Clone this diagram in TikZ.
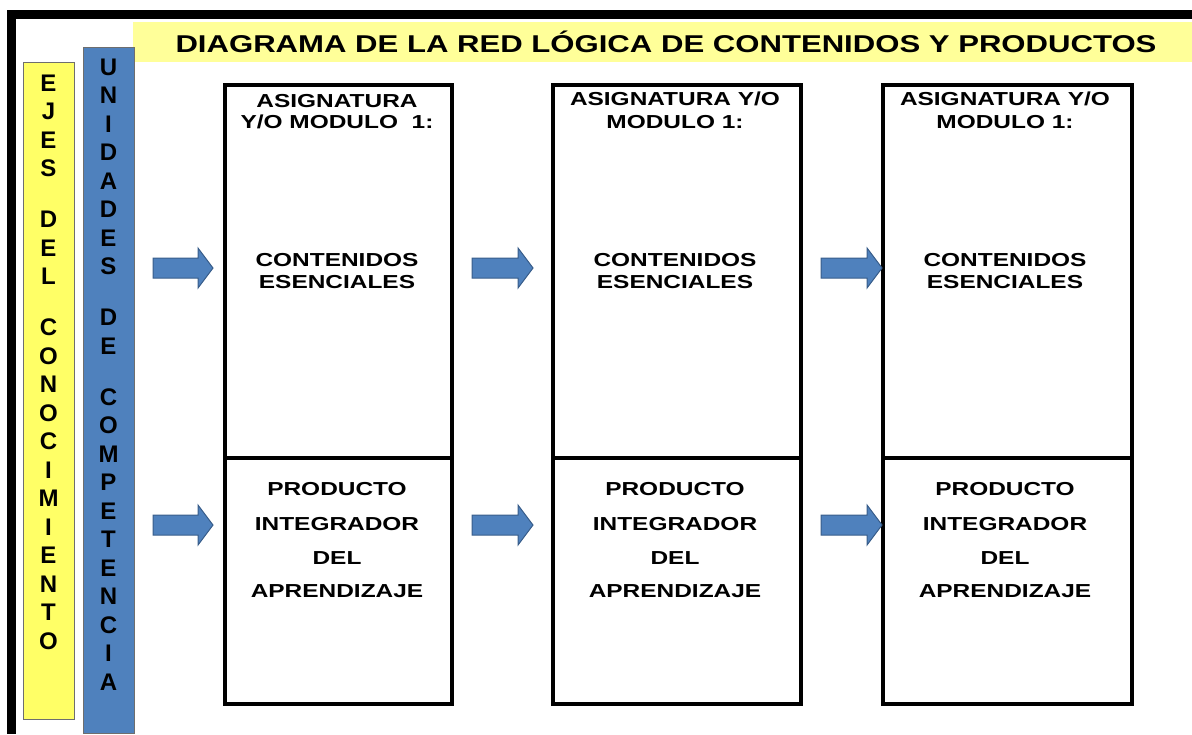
\documentclass[tikz,border=0pt]{standalone}
\usepackage{fontspec}
\setmainfont{Liberation Sans}
\newfontfamily\titlefont{Liberation Sans}[FakeStretch=1.28]
\newfontfamily\boxfont{Liberation Sans}[FakeStretch=1.3]
\definecolor{bandyellow}{RGB}{255,255,153}
\definecolor{baryellow}{RGB}{255,255,102}
\definecolor{barblue}{RGB}{79,129,189}
\definecolor{arrowedge}{RGB}{56,93,138}
\definecolor{bargray}{RGB}{110,110,110}
\tikzset{
  titletxt/.style={font=\titlefont\bfseries\fontsize{24.3}{28}\selectfont, inner sep=0pt, anchor=base},
  boxtxt/.style={font=\boxfont\bfseries\fontsize{18.8}{22}\selectfont, inner sep=0pt, anchor=base},
  lettertxt/.style={font=\bfseries\fontsize{24}{28}\selectfont, inner sep=0pt},
  boxpart/.style={draw=black, line width=3.5pt, rectangle, anchor=north west, inner sep=0pt},
  fatarrow/.style={fill=barblue, draw=arrowedge, line width=1pt, line join=miter},
  vbar/.style={draw=bargray, line width=1.2pt, anchor=north west, inner sep=0pt}
}
\newcommand\fatarr[4]{%
  \draw[fatarrow] ({#1},{#4-10}) -- ({#2},{#4-10}) -- ({#2},{#4-20}) -- ({#3},{#4})
    -- ({#2},{#4+20}) -- ({#2},{#4+10}) -- ({#1},{#4+10}) -- cycle;}
\begin{document}
\begin{tikzpicture}[x=1pt,y=-1pt]
\useasboundingbox (0,0) rectangle (1192,734);
% frame
\fill[black] (7,10) rectangle (1192,19);
\fill[black] (7,10) rectangle (16,734);
% title band
\fill[bandyellow] (133,22) rectangle (1192,62);
\node[titletxt] (title) at (666,52) {DIAGRAMA DE LA RED LÓGICA DE CONTENIDOS Y PRODUCTOS};
% vertical bars
\node[vbar, fill=baryellow, minimum width=51pt, minimum height=657pt] (ejes) at (23,62) {};
\node[vbar, fill=barblue, minimum width=51pt, minimum height=686pt] (unid) at (83,47) {};
\foreach \ch/\yy [count=\i] in {E/83,J/111.5,E/140,S/168.5,D/219.5,E/248,L/276.5,C/327.5,O/356,N/384.5,O/413,C/441.5,I/470,M/498.5,I/527,E/555.5,N/584,T/612.5,O/641}
  \node[lettertxt] (ej\i) at (48.5,\yy) {\ch};
\foreach \ch/\yy [count=\i] in {U/67,N/95.5,I/124,D/152.5,A/181,D/209.5,E/238,S/266.5,D/317.5,E/346,C/397,O/425.5,M/454,P/482.5,E/511,T/539.5,E/568,N/596.5,C/625,I/653.5,A/682}
  \node[lettertxt] (un\i) at (108.5,\yy) {\ch};
% boxes
\node[boxpart, minimum width=227pt, minimum height=373pt] (t1) at (223,83) {};
\node[boxpart, minimum width=227pt, minimum height=246pt] (b1) at (223,456) {};
\node[boxpart, minimum width=248pt, minimum height=373pt] (t2) at (551,83) {};
\node[boxpart, minimum width=248pt, minimum height=246pt] (b2) at (551,456) {};
\node[boxpart, minimum width=249pt, minimum height=373pt] (t3) at (881,83) {};
\node[boxpart, minimum width=249pt, minimum height=246pt] (b3) at (881,456) {};
% box texts
\node[boxtxt] (a1l1) at (337,107) {ASIGNATURA};
\node[boxtxt] (a1l2) at (337,128) {Y/O MODULO~~1:};
\node[boxtxt] (a2l1) at (675,105) {ASIGNATURA Y/O};
\node[boxtxt] (a2l2) at (675,128) {MODULO 1:};
\node[boxtxt] (a3l1) at (1005,105) {ASIGNATURA Y/O};
\node[boxtxt] (a3l2) at (1005,128) {MODULO 1:};
\foreach \cx/\n in {337/1,675/2,1005/3}{
  \node[boxtxt] (c\n l1) at (\cx,266) {CONTENIDOS};
  \node[boxtxt] (c\n l2) at (\cx,288) {ESENCIALES};
  \node[boxtxt] (p\n l1) at (\cx,495) {PRODUCTO};
  \node[boxtxt] (p\n l2) at (\cx,530) {INTEGRADOR};
  \node[boxtxt] (p\n l3) at (\cx,564) {DEL};
  \node[boxtxt] (p\n l4) at (\cx,597) {APRENDIZAJE};
}
% arrows
\fatarr{153}{198}{213}{268}
\fatarr{472}{518}{533}{268}
\fatarr{821}{867}{882}{268}
\fatarr{153}{198}{213}{525}
\fatarr{472}{518}{533}{525}
\fatarr{821}{867}{882}{525}
\end{tikzpicture}
\end{document}
